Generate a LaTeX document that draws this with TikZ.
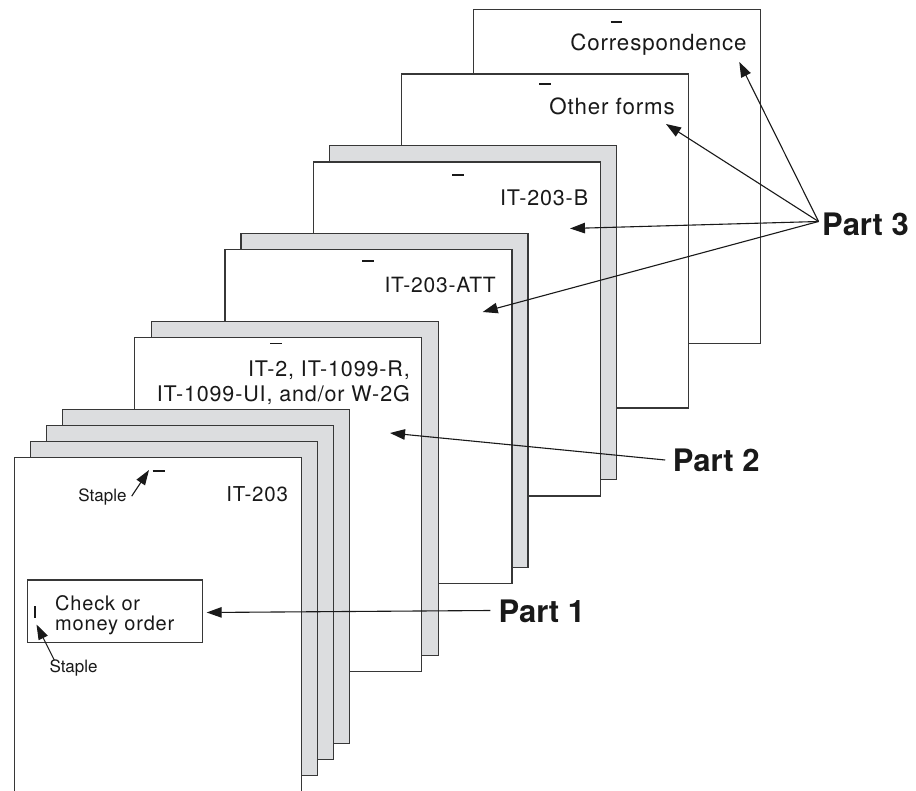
\documentclass[tikz,border=0pt]{standalone}
\usepackage{fontspec}
\setmainfont{TeX Gyre Heros}
\newfontfamily\spaced[LetterSpace=4]{TeX Gyre Heros}
\usetikzlibrary{arrows.meta}
\definecolor{shadegray}{RGB}{220,221,223}
\definecolor{edgegray}{RGB}{55,55,55}
\begin{document}
\begin{tikzpicture}[x=1pt,y=-1pt,
  pg/.style={draw=edgegray, line width=1.3pt, fill=white, anchor=north west,
    minimum width=287pt, minimum height=334pt, inner sep=0pt, outer sep=0pt},
  sh/.style={pg, fill=shadegray},
  lbl/.style={font=\spaced\fontsize{22}{25}\selectfont, anchor=base east, inner sep=0pt, text=black!90},
  small/.style={font=\fontsize{17}{19}\selectfont, inner sep=0pt, text=black!90},
  part/.style={font=\fontsize{31}{34}\selectfont\bfseries, anchor=west, inner sep=0pt, text=black!90},
  stp/.style={line width=1.8pt, draw=black!90},
  arr/.style={line width=1.1pt, draw=black!90, -{Triangle[length=15pt,width=10.5pt]}},
  sarr/.style={line width=1.1pt, draw=black!90, -{Triangle[length=15pt,width=10pt]}},
]
\useasboundingbox (0,0) rectangle (916,791);

% Correspondence
\node[pg] (corr) at (473.3,9.3) {};
\draw[stp] (610.7,21.7) -- (622.3,21.7);
\node[lbl, font=\spaced\fontsize{22.3}{25}\selectfont] (tcorr) at (746.7,50.3) {Correspondence};

% Other forms
\node[pg] (other) at (401.3,74) {};
\draw[stp] (539,84) -- (550.7,84);
\node[lbl, font=\spaced\fontsize{22.3}{25}\selectfont] (tother) at (675,114.5) {Other forms};

% IT-203-B
\node[sh] (bsh) at (329.3,145.5) {};
\node[pg] (b) at (313.3,162) {};
\draw[stp] (452,174.7) -- (464,174.7);
\node[lbl, font=\spaced\fontsize{21.5}{25}\selectfont] (tb) at (588.3,206) {IT-203-B};

% IT-203-ATT
\node[sh] (attsh) at (241,233.5) {};
\node[pg] (att) at (225,249.5) {};
\draw[stp] (362,261.3) -- (374,261.3);
\node[lbl, font=\spaced\fontsize{21}{25}\selectfont] (tatt) at (496,292.3) {IT-203-ATT};

% IT-2 etc
\node[sh] (itsh) at (151.5,321.7) {};
\node[pg] (it2) at (134.7,337.7) {};
\draw[stp] (270,343.5) -- (282,343.5);
\node[lbl, font=\spaced\fontsize{21.5}{25}\selectfont] (tit2a) at (410,376.7) {IT-2, IT-1099-R,};
\node[lbl, font=\spaced\fontsize{21.5}{25}\selectfont] (tit2b) at (410,401.7) {IT-1099-UI, and/or W-2G};

% IT-203 stack
\node[sh] (g3) at (62.7,409.3) {};
\node[sh] (g2) at (46.7,425.3) {};
\node[sh] (g1) at (30.7,441.3) {};
\node[pg] (front) at (14.7,457.3) {};
\draw[stp] (152.7,470.7) -- (164.7,470.7);
\node[lbl, font=\spaced\fontsize{20.5}{25}\selectfont] (tfront) at (288.3,501.7) {IT-203};
\node[small, anchor=base east] (st1) at (126.7,501.7) {Staple};
\coordinate (stip1) at (149,470);
\draw[sarr] ([xshift=5pt,yshift=1pt]st1.east) -- (stip1);

% check box
\node[draw=edgegray, line width=1.3pt, anchor=north west, minimum width=175.3pt,
  minimum height=62.4pt, inner sep=0pt] (check) at (26.7,579.3) {};
\node[lbl, anchor=base west, font=\spaced\fontsize{20}{18}\selectfont] (tcheck) at (55,610.3)
  {\begin{tabular}[t]{@{}l@{}}Check or\\money order\end{tabular}};
\draw[line width=1.4pt, draw=black!90] (35,606) -- (35,617.5);
\node[small, anchor=base west] (st2) at (49.3,672) {Staple};
\coordinate (stip2) at (36.5,624.5);
\draw[sarr] ([xshift=5pt,yshift=-1pt]st2.north west) -- (stip2);

% Part labels and arrows
\node[part] (p3) at (822,224) {Part 3};
\node[part] (p2) at (672.7,460) {Part 2};
\node[part] (p1) at (498.3,611.5) {Part 1};

\coordinate (tipcorr) at (739.3,62);
\coordinate (tipother) at (666,124);
\coordinate (tipb) at (570,228.5);
\coordinate (tipatt) at (482.7,312);
\coordinate (tip2) at (390,433);
\coordinate (tip1) at (206.7,612.5);

\draw[arr] ([xshift=-3.5pt,yshift=2.5pt]p3.west) -- (tipcorr);
\draw[arr] ([xshift=-3.5pt,yshift=2.5pt]p3.west) -- (tipother);
\draw[arr] ([xshift=-3.5pt,yshift=2.5pt]p3.west) -- (tipb);
\draw[arr] ([xshift=-3.5pt,yshift=2.5pt]p3.west) -- (tipatt);
\draw[arr] ([xshift=-7.5pt]p2.west) -- (tip2);
\draw[arr] ([xshift=-8pt,yshift=1pt]p1.west) -- (tip1);
\end{tikzpicture}
\end{document}
